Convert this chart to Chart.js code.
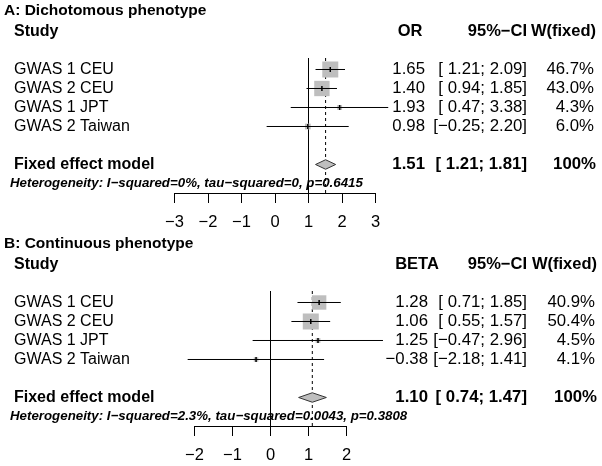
<!DOCTYPE html>
<html><head><meta charset="utf-8">
<script src="https://cdn.jsdelivr.net/npm/chart.js@4.4.1/dist/chart.umd.min.js"></script>
<style>
html,body{margin:0;padding:0;background:#fff;width:602px;height:466px;overflow:hidden}
.wrap{position:absolute;left:0;width:602px;height:233px}
canvas{display:block}
</style></head><body>
<div class="wrap" style="top:0"><canvas id="cA" width="602" height="233"></canvas></div>
<div class="wrap" style="top:233px"><canvas id="cB" width="602" height="233"></canvas></div>
<script>
// ---------- data ----------
const studies = ["GWAS 1 CEU", "GWAS 2 CEU", "GWAS 1 JPT", "GWAS 2 Taiwan"];

// Panel A: dichotomous phenotype (OR)
const orEst    = [1.65, 1.40, 1.93, 0.98];
const orLower  = [1.21, 0.94, 0.47, -0.25];
const orUpper  = [2.09, 1.85, 3.38, 2.20];
const orWeight = [46.7, 43.0, 4.3, 6.0];
const orFixed  = [1.51, 1.21, 1.81];          // estimate, lower, upper
const orTicks  = [-3, -2, -1, 0, 1, 2, 3];
const orRef    = 1;
const orHet    = "Heterogeneity: I\u2212squared=0%, tau\u2212squared=0, p=0.6415";

// Panel B: continuous phenotype (BETA)
const betaEst    = [1.28, 1.06, 1.25, -0.38];
const betaLower  = [0.71, 0.55, -0.47, -2.18];
const betaUpper  = [1.85, 1.57, 2.96, 1.41];
const betaWeight = [40.9, 50.4, 4.5, 4.1];
const betaFixed  = [1.10, 0.74, 1.47];
const betaTicks  = [-2, -1, 0, 1, 2];
const betaRef    = 0;
const betaHet    = "Heterogeneity: I\u2212squared=2.3%, tau\u2212squared=0.0043, p=0.3808";

// ---------- helpers ----------
const FONT = "'Liberation Sans', Arial, Helvetica, sans-serif";
const MINUS = "\u2212";
function fmt(v) { return (v < 0 ? MINUS : "") + Math.abs(v).toFixed(2); }
function fmtCI(lo, hi) { return "[" + (lo < 0 ? "" : " ") + fmt(lo) + "; " + fmt(hi) + "]"; }
function fmtTick(v) { return (v < 0 ? MINUS : "") + Math.abs(v); }

const Y_TOP = -0.605, Y_BOT = 6.5;   // row-scale bounds (rows: 0..3 studies, 5 fixed, 6 heterogeneity)
const FIXED_ROW = 5, HET_ROW = 6;

function makePanel(canvasId, p) {
  const wMax = Math.max(...p.weight);
  const datasets = [];
  // reference (no-effect) line
  datasets.push({ type: 'line', data: [{x: p.ref, y: Y_TOP}, {x: p.ref, y: Y_BOT}],
    borderColor: '#000', borderWidth: 1, pointRadius: 0, fill: false, clip: false, order: 10 });
  // fixed-effect dashed line
  datasets.push({ type: 'line', data: [{x: p.fixed[0], y: Y_TOP}, {x: p.fixed[0], y: Y_BOT}],
    borderColor: '#000', borderWidth: 1, borderDash: [3, 3], pointRadius: 0, fill: false, clip: false, order: 9 });
  // weighted squares
  datasets.push({ type: 'scatter', data: p.est.map((v, i) => ({x: v, y: i})),
    pointStyle: 'rect', backgroundColor: '#bebebe', borderWidth: 0,
    pointRadius: p.weight.map(w => 16 * Math.sqrt(w / wMax) / Math.SQRT2),
    clip: false, order: 8 });
  // confidence interval lines
  p.est.forEach((v, i) => {
    datasets.push({ type: 'line', data: [{x: p.lower[i], y: i}, {x: p.upper[i], y: i}],
      borderColor: '#000', borderWidth: 1, pointRadius: 0, fill: false, clip: false, order: 7 });
  });
  // estimate tick marks
  datasets.push({ type: 'scatter', data: p.est.map((v, i) => ({x: v, y: i})),
    pointStyle: 'line', rotation: 90, pointRadius: 2.5, borderColor: '#000', borderWidth: 1.5,
    clip: false, order: 6 });
  // fixed-effect diamond
  const h = 0.25;
  datasets.push({ type: 'line', data: [
      {x: p.fixed[1], y: FIXED_ROW}, {x: p.fixed[0], y: FIXED_ROW - h},
      {x: p.fixed[2], y: FIXED_ROW}, {x: p.fixed[0], y: FIXED_ROW + h},
      {x: p.fixed[1], y: FIXED_ROW}],
    borderColor: '#333', borderWidth: 1, backgroundColor: '#bebebe', fill: 'shape',
    pointRadius: 0, tension: 0, clip: false, order: 1 });

  const textPlugin = {
    id: 'forestText',
    afterDraw(chart) {
      const ctx = chart.ctx, ys = chart.scales.y;
      const Y = r => ys.getPixelForValue(r);
      ctx.save();
      ctx.fillStyle = '#000';
      ctx.textBaseline = 'middle';
      const lab = "16px " + FONT, num = "16.8px " + FONT;
      const bold = "bold 16px " + FONT, boldNum = "bold 16.8px " + FONT;
      // title & header
      ctx.font = "bold 15.5px " + FONT; ctx.textAlign = 'left';
      ctx.fillText(p.title, 4, Y(-3) - 2);
      ctx.font = bold;
      ctx.fillText("Study", 14, Y(-2));
      ctx.font = "bold 16.5px " + FONT;
      ctx.textAlign = 'center';
      ctx.fillText(p.estHeader, p.estHeadX, Y(-2));
      ctx.textAlign = 'right';
      ctx.fillText("95%" + MINUS + "CI", p.ciR, Y(-2));
      ctx.fillText("W(fixed)", p.wR + 2, Y(-2));
      // study rows
      studies.forEach((s, i) => {
        ctx.font = lab;
        ctx.textAlign = 'left';
        ctx.fillText(s, 14, Y(i));
        ctx.font = num;
        ctx.textAlign = 'right';
        ctx.fillText(fmt(p.est[i]), p.estR, Y(i));
        ctx.fillText(fmtCI(p.lower[i], p.upper[i]), p.ciR, Y(i));
        ctx.fillText(p.weight[i].toFixed(1) + "%", p.wR, Y(i));
      });
      // fixed-effect row
      ctx.font = bold;
      ctx.textAlign = 'left';
      ctx.fillText("Fixed effect model", 14, Y(FIXED_ROW));
      ctx.font = boldNum;
      ctx.textAlign = 'right';
      ctx.fillText(fmt(p.fixed[0]), p.estR, Y(FIXED_ROW));
      ctx.fillText(fmtCI(p.fixed[1], p.fixed[2]), p.ciR, Y(FIXED_ROW));
      ctx.fillText("100%", p.wR + 2, Y(FIXED_ROW));
      // heterogeneity
      ctx.font = "italic bold 13.3px " + FONT;
      ctx.textAlign = 'left';
      ctx.fillText(p.het, 10, Y(HET_ROW));
      ctx.restore();
    }
  };

  return new Chart(document.getElementById(canvasId), {
    type: 'scatter',
    data: { datasets },
    options: {
      responsive: false, animation: false, events: [],
      layout: { padding: { left: p.left, right: 602 - p.right, top: 58, bottom: 0 } },
      plugins: { legend: { display: false }, tooltip: { enabled: false } },
      scales: {
        x: {
          type: 'linear', min: p.ticks[0], max: p.ticks[p.ticks.length - 1],
          afterBuildTicks: s => { s.ticks = p.ticks.map(v => ({ value: v })); },
          afterFit: s => { s.height = 40; },
          grid: { drawOnChartArea: false, drawTicks: true, tickLength: 10, color: '#000', lineWidth: 1 },
          border: { display: true, color: '#000', width: 1 },
          ticks: { color: '#000', font: { family: FONT, size: 16.5 }, padding: 10,
                   maxRotation: 0, autoSkip: false, callback: v => fmtTick(v) }
        },
        y: { type: 'linear', reverse: true, min: Y_TOP, max: Y_BOT, display: false }
      }
    },
    plugins: [textPlugin]
  });
}

makePanel('cA', {
  title: "A: Dichotomous phenotype", estHeader: "OR", estHeadX: 410,
  est: orEst, lower: orLower, upper: orUpper, weight: orWeight, fixed: orFixed,
  ticks: orTicks, ref: orRef, het: orHet,
  left: 174.5, right: 375.5, estR: 425, ciR: 527, wR: 594
});
makePanel('cB', {
  title: "B: Continuous phenotype", estHeader: "BETA", estHeadX: 417,
  est: betaEst, lower: betaLower, upper: betaUpper, weight: betaWeight, fixed: betaFixed,
  ticks: betaTicks, ref: betaRef, het: betaHet,
  left: 194.5, right: 346.5, estR: 428, ciR: 527, wR: 595
});
</script>
</body></html>
